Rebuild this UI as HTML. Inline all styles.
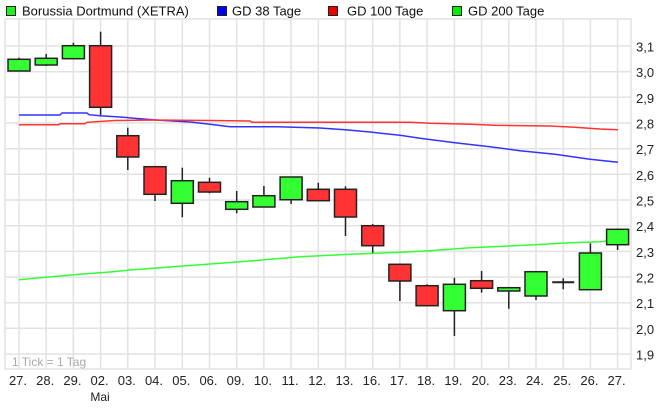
<!DOCTYPE html>
<html>
<head>
<meta charset="utf-8">
<style>
html,body{margin:0;padding:0;background:#fff;}
svg{display:block;font-family:"Liberation Sans",Arial,sans-serif;}
</style>
</head>
<body>
<svg width="662" height="412" viewBox="0 0 662 412" xmlns="http://www.w3.org/2000/svg">
<rect x="0" y="0" width="662" height="412" fill="#fff"/>
<!-- Legend -->
<rect x="6.5" y="6.5" width="9" height="9" fill="#22ee22" stroke="#222" stroke-width="1"/>
<text x="22" y="15.5" font-size="13" fill="#111">Borussia Dortmund (XETRA)</text>
<rect x="217.5" y="6.5" width="9" height="9" fill="#0000ee" stroke="#222" stroke-width="1"/>
<text x="232" y="15.5" font-size="13" fill="#111">GD 38 Tage</text>
<rect x="328.5" y="6.5" width="9" height="9" fill="#ee0000" stroke="#222" stroke-width="1"/>
<text x="347" y="15.5" font-size="13" fill="#111">GD 100 Tage</text>
<rect x="452.5" y="6.5" width="9" height="9" fill="#00ee00" stroke="#222" stroke-width="1"/>
<text x="468" y="15.5" font-size="13" fill="#111">GD 200 Tage</text>

<!-- Grid -->
<g stroke="#e2e2e2" stroke-width="1.5" fill="none">
<line x1="5" y1="46" x2="631" y2="46"/>
<line x1="5" y1="71.7" x2="631" y2="71.7"/>
<line x1="5" y1="97.3" x2="631" y2="97.3"/>
<line x1="5" y1="123" x2="631" y2="123"/>
<line x1="5" y1="148.7" x2="631" y2="148.7"/>
<line x1="5" y1="174.3" x2="631" y2="174.3"/>
<line x1="5" y1="200" x2="631" y2="200"/>
<line x1="5" y1="225.7" x2="631" y2="225.7"/>
<line x1="5" y1="251.4" x2="631" y2="251.4"/>
<line x1="5" y1="277" x2="631" y2="277"/>
<line x1="5" y1="302.7" x2="631" y2="302.7"/>
<line x1="5" y1="328.3" x2="631" y2="328.3"/>
<line x1="5" y1="354" x2="631" y2="354"/>
<line x1="19" y1="19" x2="19" y2="369"/>
<line x1="46.2" y1="19" x2="46.2" y2="369"/>
<line x1="73.4" y1="19" x2="73.4" y2="369"/>
<line x1="100.6" y1="19" x2="100.6" y2="369"/>
<line x1="127.8" y1="19" x2="127.8" y2="369"/>
<line x1="155" y1="19" x2="155" y2="369"/>
<line x1="182.3" y1="19" x2="182.3" y2="369"/>
<line x1="209.5" y1="19" x2="209.5" y2="369"/>
<line x1="236.7" y1="19" x2="236.7" y2="369"/>
<line x1="263.9" y1="19" x2="263.9" y2="369"/>
<line x1="291.1" y1="19" x2="291.1" y2="369"/>
<line x1="318.3" y1="19" x2="318.3" y2="369"/>
<line x1="345.5" y1="19" x2="345.5" y2="369"/>
<line x1="372.7" y1="19" x2="372.7" y2="369"/>
<line x1="399.9" y1="19" x2="399.9" y2="369"/>
<line x1="427.1" y1="19" x2="427.1" y2="369"/>
<line x1="454.4" y1="19" x2="454.4" y2="369"/>
<line x1="481.6" y1="19" x2="481.6" y2="369"/>
<line x1="508.8" y1="19" x2="508.8" y2="369"/>
<line x1="536" y1="19" x2="536" y2="369"/>
<line x1="563.2" y1="19" x2="563.2" y2="369"/>
<line x1="590.4" y1="19" x2="590.4" y2="369"/>
<line x1="617.6" y1="19" x2="617.6" y2="369"/>
<rect x="5" y="19" width="626" height="350"/>
</g>

<text x="12" y="366" font-size="12" fill="#aaa">1 Tick = 1 Tag</text>

<!-- Moving averages -->
<polyline fill="none" stroke="#3333ff" stroke-width="1.5" points="19,115 60,115 62,113 87,113 89,114.7 100,115.7 120,117 140,118.7 160,120.3 190,122 210,124.3 230,126.7 277,126.7 320,128 345,129.7 370,132 400,135.3 420,138.3 455,142.7 490,146.7 520,150.7 555,154.3 590,159.3 618,162.3"/>
<polyline fill="none" stroke="#ff3333" stroke-width="1.5" points="19,124.7 59,124.7 60,123.7 85,123.7 87,122.3 115,120.5 150,120 210,120.5 250,121 252,122.3 410,122.3 430,123.3 470,124.3 495,125.3 550,126 575,127.3 600,129 618,129.7"/>
<polyline fill="none" stroke="#33ff33" stroke-width="1.5" points="19,279.7 40,277.7 80,274.3 110,272 130,270 210,264 250,261 300,256.7 350,254.3 400,252.3 430,250.7 470,247.7 530,245 570,242.7 600,241.7 618,240"/>

<!-- Candles -->
<g stroke="#222" stroke-width="1.5">
<line x1="19" y1="57.7" x2="19" y2="71"/><rect x="8" y="59.3" width="22" height="11.7" fill="#33ff33"/>
<line x1="46.2" y1="54" x2="46.2" y2="66"/><rect x="35.2" y="58.3" width="22" height="6.7" fill="#33ff33"/>
<line x1="73.4" y1="42.7" x2="73.4" y2="58.7"/><rect x="62.4" y="45.7" width="22" height="13" fill="#33ff33"/>
<line x1="100.6" y1="31.7" x2="100.6" y2="115"/><rect x="89.6" y="45.7" width="22" height="61.6" fill="#ff3333"/>
<line x1="127.8" y1="127.7" x2="127.8" y2="170"/><rect x="116.8" y="135.7" width="22" height="21.3" fill="#ff3333"/>
<line x1="155" y1="166.7" x2="155" y2="201"/><rect x="144" y="166.7" width="22" height="27.6" fill="#ff3333"/>
<line x1="182.3" y1="167.7" x2="182.3" y2="217.3"/><rect x="171.3" y="180.7" width="22" height="22.6" fill="#33ff33"/>
<line x1="209.5" y1="177.7" x2="209.5" y2="193.3"/><rect x="198.5" y="182.3" width="22" height="9.7" fill="#ff3333"/>
<line x1="236.7" y1="191" x2="236.7" y2="213.3"/><rect x="225.7" y="201.7" width="22" height="7.6" fill="#33ff33"/>
<line x1="263.9" y1="186" x2="263.9" y2="207"/><rect x="252.9" y="195.7" width="22" height="11.3" fill="#33ff33"/>
<line x1="291.1" y1="177" x2="291.1" y2="204"/><rect x="280.1" y="177" width="22" height="22.7" fill="#33ff33"/>
<line x1="318.3" y1="182.7" x2="318.3" y2="200.7"/><rect x="307.3" y="189.3" width="22" height="11.4" fill="#ff3333"/>
<line x1="345.5" y1="186.3" x2="345.5" y2="236"/><rect x="334.5" y="189.3" width="22" height="27.7" fill="#ff3333"/>
<line x1="372.7" y1="224" x2="372.7" y2="252.7"/><rect x="361.7" y="225.7" width="22" height="20" fill="#ff3333"/>
<line x1="399.9" y1="264.3" x2="399.9" y2="301"/><rect x="388.9" y="264.3" width="22" height="16.7" fill="#ff3333"/>
<line x1="427.1" y1="284.3" x2="427.1" y2="305.7"/><rect x="416.1" y="285.7" width="22" height="20" fill="#ff3333"/>
<line x1="454.4" y1="277.7" x2="454.4" y2="336"/><rect x="443.4" y="284.3" width="22" height="26.4" fill="#33ff33"/>
<line x1="481.6" y1="271" x2="481.6" y2="292.7"/><rect x="470.6" y="280.7" width="22" height="7.6" fill="#ff3333"/>
<line x1="508.8" y1="287.7" x2="508.8" y2="308.7"/><rect x="497.8" y="287.7" width="22" height="3.3" fill="#33ff33"/>
<line x1="536" y1="271.7" x2="536" y2="300"/><rect x="525" y="271.7" width="22" height="24.3" fill="#33ff33"/>
<line x1="563.2" y1="278.3" x2="563.2" y2="289.3"/><line x1="552.2" y1="282.3" x2="574.2" y2="282.3" stroke-width="2"/>
<line x1="590.4" y1="243.3" x2="590.4" y2="289.7"/><rect x="579.4" y="253" width="22" height="36.7" fill="#33ff33"/>
<line x1="617.6" y1="229.3" x2="617.6" y2="250"/><rect x="606.6" y="229.3" width="22" height="15.4" fill="#33ff33"/>
</g>

<!-- Y axis labels -->
<g font-size="13" fill="#222">
<text x="636" y="51.5">3,1</text>
<text x="636" y="77.2">3,0</text>
<text x="636" y="102.8">2,9</text>
<text x="636" y="128.5">2,8</text>
<text x="636" y="154.2">2,7</text>
<text x="636" y="179.8">2,6</text>
<text x="636" y="205.5">2,5</text>
<text x="636" y="231.2">2,4</text>
<text x="636" y="256.9">2,3</text>
<text x="636" y="282.5">2,2</text>
<text x="636" y="308.2">2,1</text>
<text x="636" y="333.8">2,0</text>
<text x="636" y="359.5">1,9</text>
</g>

<!-- X axis labels -->
<g font-size="13" fill="#222" text-anchor="middle">
<text x="18" y="385">27.</text>
<text x="45.2" y="385">28.</text>
<text x="72.4" y="385">29.</text>
<text x="99.6" y="385">02.</text>
<text x="126.8" y="385">03.</text>
<text x="154" y="385">04.</text>
<text x="181.3" y="385">05.</text>
<text x="208.5" y="385">06.</text>
<text x="235.7" y="385">09.</text>
<text x="262.9" y="385">10.</text>
<text x="290.1" y="385">11.</text>
<text x="317.3" y="385">12.</text>
<text x="344.5" y="385">13.</text>
<text x="371.7" y="385">16.</text>
<text x="398.9" y="385">17.</text>
<text x="426.1" y="385">18.</text>
<text x="453.4" y="385">19.</text>
<text x="480.6" y="385">20.</text>
<text x="507.8" y="385">23.</text>
<text x="535" y="385">24.</text>
<text x="562.2" y="385">25.</text>
<text x="589.4" y="385">26.</text>
<text x="616.6" y="385">27.</text>
<text x="100" y="401" font-size="12">Mai</text>
</g>
</svg>
</body>
</html>
